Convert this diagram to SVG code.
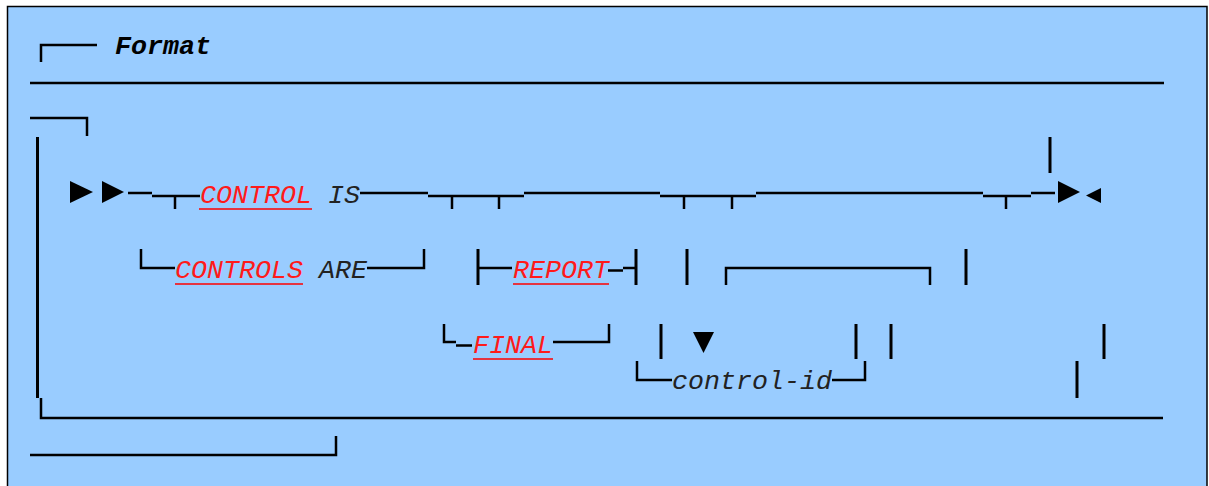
<svg xmlns="http://www.w3.org/2000/svg" width="1209" height="486" viewBox="0 0 1209 486">
<style>
.ln{stroke:#000;stroke-width:2.5;fill:none;stroke-linecap:butt}
.vl{stroke:#000;stroke-width:3;fill:none}
.kw{font-family:"Liberation Mono","Courier New",monospace;font-style:italic;font-size:26.67px;fill:#ff1a1a}
.tx{font-family:"Liberation Mono","Courier New",monospace;font-style:italic;font-size:26.67px;fill:#222}
.hd{font-family:"Liberation Mono","Courier New",monospace;font-style:italic;font-weight:bold;font-size:26.67px;fill:#000}
.ul{stroke:#ff0000;stroke-width:1.5}
.tri{fill:#000}
</style>
<rect x="0" y="0" width="1209" height="486" fill="#ffffff"/>
<rect x="7.5" y="6.5" width="1199.5" height="490" fill="#99ccff" stroke="#000" stroke-width="1.5"/>

<g id="header">
  <text class="hd" x="115" y="54">Format</text>
</g>
<g id="n-control-is">
  <text class="kw" x="200" y="203">CONTROL</text>
  <line class="ul" x1="199" y1="209" x2="312" y2="209"/>
  <text class="tx" x="328" y="203">IS</text>
</g>
<g id="n-controls-are">
  <text class="kw" x="175" y="278">CONTROLS</text>
  <line class="ul" x1="175" y1="284" x2="303" y2="284"/>
  <text class="tx" x="319" y="278">ARE</text>
</g>
<g id="n-report">
  <text class="kw" x="513" y="278">REPORT</text>
  <line class="ul" x1="513" y1="284" x2="609" y2="284"/>
</g>
<g id="n-final">
  <text class="kw" x="473" y="353">FINAL</text>
  <line class="ul" x1="473" y1="359" x2="553" y2="359"/>
</g>
<g id="n-control-id">
  <text class="tx" x="672" y="389">control-id</text>
</g>

<g id="connectors">
  <!-- header corner -->
  <path class="ln" d="M41,62 V45 H97"/>
  <line class="ln" x1="30" y1="83" x2="1164" y2="83"/>
  <path class="ln" d="M30,118 H87 V136"/>
  <!-- left loop -->
  <line class="vl" x1="37.5" y1="137" x2="37.5" y2="398"/>
  <path class="ln" d="M41,398 V418 H1163"/>
  <path class="ln" d="M30,455 H336 V436"/>
  <!-- start arrows -->
  <polygon class="tri" points="70,181 70,203 93,192"/>
  <polygon class="tri" points="102,181 102,203 124,192"/>
  <!-- main line -->
  <line class="ln" x1="128" y1="193" x2="152" y2="193"/>
  <line class="ln" x1="152" y1="196" x2="200" y2="196"/>
  <line class="ln" x1="175" y1="196" x2="175" y2="209"/>
  <line class="ln" x1="360" y1="193" x2="428" y2="193"/>
  <line class="ln" x1="428" y1="196" x2="524" y2="196"/>
  <line class="ln" x1="452" y1="196" x2="452" y2="209"/>
  <line class="ln" x1="499" y1="196" x2="499" y2="209"/>
  <line class="ln" x1="524" y1="193" x2="660" y2="193"/>
  <line class="ln" x1="660" y1="196" x2="756" y2="196"/>
  <line class="ln" x1="684" y1="196" x2="684" y2="209"/>
  <line class="ln" x1="732" y1="196" x2="732" y2="209"/>
  <line class="ln" x1="756" y1="193" x2="983" y2="193"/>
  <line class="ln" x1="983" y1="196" x2="1031" y2="196"/>
  <line class="ln" x1="1006" y1="196" x2="1006" y2="209"/>
  <line class="ln" x1="1031" y1="193" x2="1055" y2="193"/>
  <line class="vl" x1="1050" y1="137" x2="1050" y2="173"/>
  <polygon class="tri" points="1058,181 1058,203 1080,192"/>
  <polygon class="tri" points="1101,188 1101,203 1086,195.5"/>
  <!-- CONTROLS ARE branch -->
  <path class="ln" d="M141,249 V268 H175"/>
  <path class="ln" d="M367,268 H424 V249"/>
  <!-- REPORT -->
  <line class="vl" x1="478" y1="249" x2="478" y2="285"/>
  <line class="ln" x1="478" y1="268" x2="512" y2="268"/>
  <line class="ln" x1="608" y1="270.5" x2="623" y2="270.5"/>
  <line class="ln" x1="623" y1="268" x2="636" y2="268"/>
  <line class="vl" x1="636" y1="249" x2="636" y2="285"/>
  <line class="vl" x1="687" y1="249" x2="687" y2="285"/>
  <path class="ln" d="M726,285 V268 H930 V285"/>
  <line class="vl" x1="966" y1="249" x2="966" y2="285"/>
  <!-- FINAL -->
  <path class="ln" d="M444,324 V342 H456"/>
  <line class="ln" x1="456" y1="345.5" x2="472" y2="345.5"/>
  <path class="ln" d="M553,342 H609 V324"/>
  <line class="vl" x1="661" y1="324" x2="661" y2="359"/>
  <polygon class="tri" points="693,332 714,332 703.5,353"/>
  <line class="vl" x1="856" y1="324" x2="856" y2="359"/>
  <line class="vl" x1="891" y1="324" x2="891" y2="359"/>
  <line class="vl" x1="1104" y1="324" x2="1104" y2="359"/>
  <!-- control-id repeat -->
  <path class="ln" d="M637,361 V380 H672"/>
  <path class="ln" d="M832,380 H865 V361"/>
  <line class="vl" x1="1077" y1="361" x2="1077" y2="398"/>
</g>
</svg>
